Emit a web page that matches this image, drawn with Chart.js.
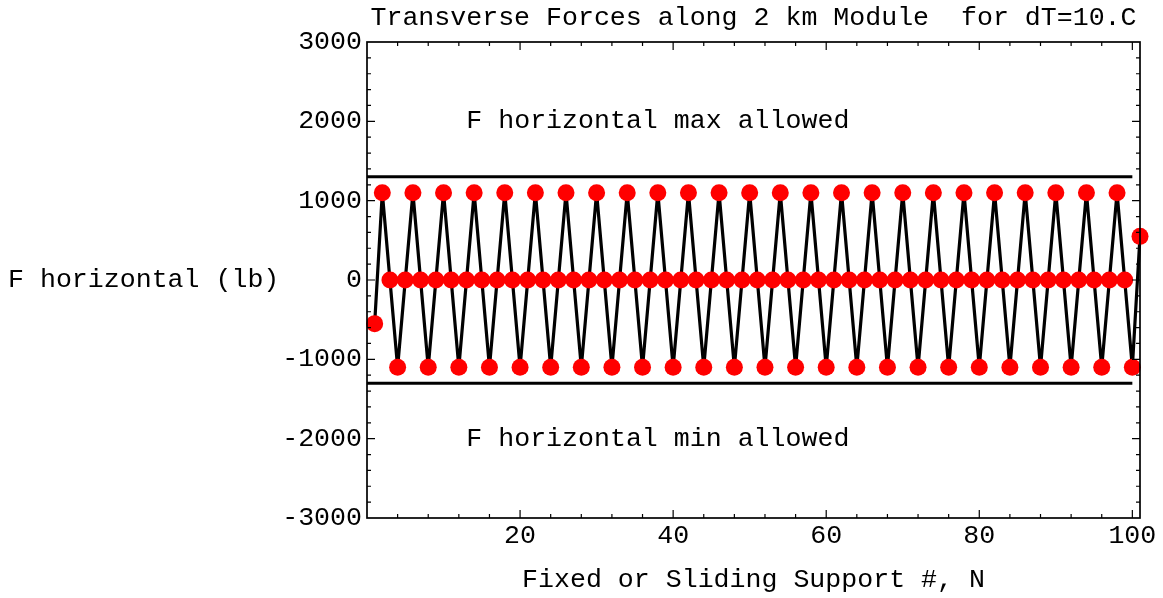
<!DOCTYPE html>
<html>
<head>
<meta charset="utf-8">
<title>Transverse Forces</title>
<script src="https://cdn.jsdelivr.net/npm/chart.js@4.4.1/dist/chart.umd.min.js"></script>
<style>
  body { margin: 0; background: #fff; }
  #wrap { width: 1163px; height: 598px; }
</style>
</head>
<body>
<div id="wrap"><canvas id="myChart" width="1163" height="598"></canvas></div>
<script>
// Support number N (1..101)
var supportN = [
    1, 2, 3, 4, 5, 6, 7, 8, 9, 10,
    11, 12, 13, 14, 15, 16, 17, 18, 19, 20,
    21, 22, 23, 24, 25, 26, 27, 28, 29, 30,
    31, 32, 33, 34, 35, 36, 37, 38, 39, 40,
    41, 42, 43, 44, 45, 46, 47, 48, 49, 50,
    51, 52, 53, 54, 55, 56, 57, 58, 59, 60,
    61, 62, 63, 64, 65, 66, 67, 68, 69, 70,
    71, 72, 73, 74, 75, 76, 77, 78, 79, 80,
    81, 82, 83, 84, 85, 86, 87, 88, 89, 90,
    91, 92, 93, 94, 95, 96, 97, 98, 99, 100,
    101
];

// F horizontal (lb)
var forceLb = [
    -550, 1100, 0, -1100, 0, 1100, 0, -1100, 0, 1100,
    0, -1100, 0, 1100, 0, -1100, 0, 1100, 0, -1100,
    0, 1100, 0, -1100, 0, 1100, 0, -1100, 0, 1100,
    0, -1100, 0, 1100, 0, -1100, 0, 1100, 0, -1100,
    0, 1100, 0, -1100, 0, 1100, 0, -1100, 0, 1100,
    0, -1100, 0, 1100, 0, -1100, 0, 1100, 0, -1100,
    0, 1100, 0, -1100, 0, 1100, 0, -1100, 0, 1100,
    0, -1100, 0, 1100, 0, -1100, 0, 1100, 0, -1100,
    0, 1100, 0, -1100, 0, 1100, 0, -1100, 0, 1100,
    0, -1100, 0, 1100, 0, -1100, 0, 1100, 0, -1100,
    550
];

// allowed limits, drawn from N=0 to N=100
var limitN = [0, 100];
var maxAllowed = [1300, 1300];
var minAllowed = [-1300, -1300];

// axis ticks
var xTicks = [20, 40, 60, 80, 100];
var yTicks = [-3000, -2000, -1000, 0, 1000, 2000, 3000];

// text labels inside the plot
var noteTexts = ['F horizontal max allowed', 'F horizontal min allowed'];
var noteN = [38, 38];
var noteF = [2000, -2000];

var FONT = '26.6px "Liberation Mono", "Courier New", monospace';

function pairs(xs, ys) {
    return xs.map(function (x, i) { return { x: x, y: ys[i] }; });
}

// frame with inward ticks, like the original plot
var framePlugin = {
    id: 'frame',
    afterDatasetsDraw: function (chart) {
        var ctx = chart.ctx;
        var a = chart.chartArea;
        var xs = chart.scales.x;
        var ys = chart.scales.y;
        ctx.save();
        ctx.strokeStyle = '#000';
        ctx.lineWidth = 1.7;
        ctx.strokeRect(a.left, a.top, a.right - a.left, a.bottom - a.top);
        ctx.lineWidth = 1.2;
        ctx.beginPath();
        // x ticks every 4, long ones every 20
        for (var n = 4; n <= 100; n += 4) {
            var px = xs.getPixelForValue(n);
            var len = (n % 20 === 0) ? 8 : 4;
            ctx.moveTo(px, a.bottom); ctx.lineTo(px, a.bottom - len);
            ctx.moveTo(px, a.top); ctx.lineTo(px, a.top + len);
        }
        // y ticks every 200, long ones every 1000
        for (var f = -2800; f <= 2800; f += 200) {
            var py = ys.getPixelForValue(f);
            var l2 = (f % 1000 === 0) ? 8 : 4;
            ctx.moveTo(a.left, py); ctx.lineTo(a.left + l2, py);
            ctx.moveTo(a.right, py); ctx.lineTo(a.right - l2, py);
        }
        ctx.stroke();
        ctx.restore();
    },
    afterDraw: function (chart) {
        var ctx = chart.ctx;
        var a = chart.chartArea;
        var xs = chart.scales.x;
        var ys = chart.scales.y;
        var cx = (a.left + a.right) / 2;
        ctx.save();
        ctx.fillStyle = '#000';
        ctx.font = FONT;
        ctx.textBaseline = 'middle';
        ctx.textAlign = 'center';
        ctx.fillText('Transverse Forces along 2 km Module  for dT=10.C', cx, 18);
        ctx.fillText('Fixed or Sliding Support #, N', cx, 580);
        for (var i = 0; i < noteTexts.length; i++) {
            ctx.fillText(noteTexts[i], xs.getPixelForValue(noteN[i]), ys.getPixelForValue(noteF[i]));
        }
        ctx.textAlign = 'left';
        ctx.fillText('F horizontal (lb)', 8, ys.getPixelForValue(0));
        ctx.restore();
    }
};

document.addEventListener("DOMContentLoaded", function () {
    var ctx = document.getElementById('myChart').getContext('2d');

    var myChart = new Chart(ctx, {
        type: 'line',
        data: {
            datasets: [{
                label: 'F horizontal',
                data: pairs(supportN, forceLb),
                borderColor: '#000',
                borderWidth: 3.2,
                pointRadius: 8.5,
                pointBackgroundColor: '#ff0000',
                pointBorderWidth: 0,
                pointBorderColor: '#ff0000',
                tension: 0,
                clip: false
            }, {
                label: 'max allowed',
                data: pairs(limitN, maxAllowed),
                borderColor: '#000',
                borderWidth: 3,
                pointRadius: 0
            }, {
                label: 'min allowed',
                data: pairs(limitN, minAllowed),
                borderColor: '#000',
                borderWidth: 3,
                pointRadius: 0
            }]
        },
        options: {
            responsive: false,
            animation: false,
            layout: { padding: { left: 0, right: 23, top: 42, bottom: 0 } },
            plugins: {
                legend: { display: false },
                tooltip: { enabled: false }
            },
            scales: {
                x: {
                    type: 'linear',
                    min: 0,
                    max: 101,
                    grid: { display: false, drawTicks: false },
                    border: { display: false },
                    afterBuildTicks: function (scale) {
                        scale.ticks = xTicks.map(function (v) { return { value: v }; });
                    },
                    afterFit: function (scale) { scale.height = 80; },
                    ticks: {
                        color: '#000',
                        font: { family: '"Liberation Mono", monospace', size: 26.6 },
                        padding: 2,
                        maxRotation: 0,
                        autoSkip: false
                    }
                },
                y: {
                    min: -3000,
                    max: 3000,
                    grid: { display: false, drawTicks: false },
                    border: { display: false },
                    afterBuildTicks: function (scale) {
                        scale.ticks = yTicks.map(function (v) { return { value: v }; });
                    },
                    afterFit: function (scale) { scale.width = 367; },
                    ticks: {
                        color: '#000',
                        font: { family: '"Liberation Mono", monospace', size: 26.6 },
                        padding: 5,
                        autoSkip: false,
                        callback: function (v) { return String(v); }
                    }
                }
            }
        },
        plugins: [framePlugin]
    });
});
</script>
</body>
</html>
